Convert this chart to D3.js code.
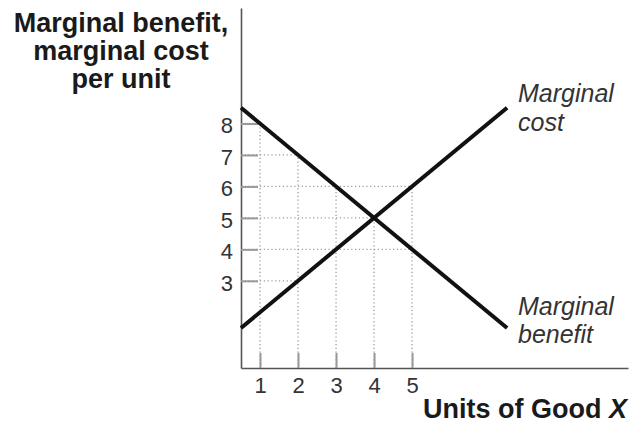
<!DOCTYPE html>
<html>
<head>
<meta charset="utf-8">
<script src="https://cdn.jsdelivr.net/npm/d3@7"></script>
<style>
  body { margin: 0; background: #fff; }
  text { font-family: "Liberation Sans", Arial, sans-serif; }
</style>
</head>
<body>
<div id="graph"></div>
<script>
// units of good X where guides are drawn
var units = [1, 2, 3, 4, 5];
// curve values at those units
var mbValues = [8, 7, 6, 5, 4];
var mcValues = [2, 3, 4, 5, 6];
// line end points
var lineX = [0.5, 7.5];
var mbEnds = [8.5, 1.5];
var mcEnds = [1.5, 8.5];
var yTicks = [3, 4, 5, 6, 7, 8];
var titleLines = ["Marginal benefit,", "marginal cost", "per unit"];

var width = 630, height = 424;

var svg = d3.select('#graph').append('svg')
    .attr('width', width)
    .attr('height', height)
    .style('background', '#fff');

var x = d3.scaleLinear().domain([0.5, 10.68]).range([241, 628]);
var y = d3.scaleLinear().domain([0.23, 11.67]).range([368, 8]);

// guides (dotted)
var guides = svg.append('g')
    .attr('stroke', '#9a9a9a')
    .attr('stroke-width', 1.3)
    .attr('stroke-dasharray', '1.2,2.6')
    .attr('fill', 'none');

units.forEach(function(u, i) {
    var top = Math.max(mbValues[i], mcValues[i]);
    guides.append('line')
        .attr('x1', x(u)).attr('x2', x(u))
        .attr('y1', y.range()[0]).attr('y2', y(top));
});

yTicks.forEach(function(v) {
    var right = 0;
    units.forEach(function(u, i) {
        if (mbValues[i] == v || mcValues[i] == v) right = Math.max(right, u);
    });
    guides.append('line')
        .attr('x1', x.range()[0]).attr('x2', x(right))
        .attr('y1', y(v)).attr('y2', y(v));
});

// axes
var xAxis = svg.append('g')
    .attr('transform', 'translate(0,' + y.range()[0] + ')')
    .call(d3.axisBottom(x).tickValues(units).tickSizeInner(-15).tickSizeOuter(0).tickPadding(9));
var yAxis = svg.append('g')
    .attr('transform', 'translate(' + x.range()[0] + ',0)')
    .call(d3.axisLeft(y).tickValues(yTicks).tickSizeInner(-17).tickSizeOuter(0).tickPadding(8));

[xAxis, yAxis].forEach(function(a) {
    a.attr('font-size', 22).attr('font-family', '"Liberation Sans", Arial, sans-serif');
    a.select('.domain').attr('stroke', '#555').attr('stroke-width', 1.6);
    a.selectAll('.tick line').attr('stroke', '#999').attr('stroke-width', 2);
    a.selectAll('.tick text')
        .attr('fill', '#333')
        .style('font-size', '22px');
});
yAxis.selectAll('.tick text').attr('dy', '0.42em');

// curves
var line = d3.line()
    .x(function(d) { return x(d[0]); })
    .y(function(d) { return y(d[1]); });

[mbEnds, mcEnds].forEach(function(ends) {
    svg.append('path')
        .datum(lineX.map(function(v, i) { return [v, ends[i]]; }))
        .attr('d', line)
        .attr('fill', 'none')
        .attr('stroke', '#111')
        .attr('stroke-width', 4);
});

function label(txt, px, py, size, opts) {
    opts = opts || {};
    return svg.append('text')
        .attr('x', px).attr('y', py)
        .attr('text-anchor', opts.anchor || 'start')
        .style('font-size', size + 'px')
        .style('font-weight', opts.bold ? 'bold' : 'normal')
        .style('font-style', opts.italic ? 'italic' : 'normal')
        .attr('fill', opts.color || '#222')
        .text(txt);
}

titleLines.forEach(function(t, i) {
    label(t, 121, 32 + i * 28, 27, { bold: true, anchor: 'middle', color: '#1a1a1a' });
});
var xl = label('Units of Good ', 627, 418, 27, { bold: true, anchor: 'end', color: '#1a1a1a' });
xl.append('tspan').style('font-style', 'italic').text('X');

label('Marginal', 518, 102, 25, { italic: true, color: '#333' });
label('cost', 518, 131, 25, { italic: true, color: '#333' });
label('Marginal', 518, 315, 25, { italic: true, color: '#333' });
label('benefit', 518, 343, 25, { italic: true, color: '#333' });
</script>
</body>
</html>
